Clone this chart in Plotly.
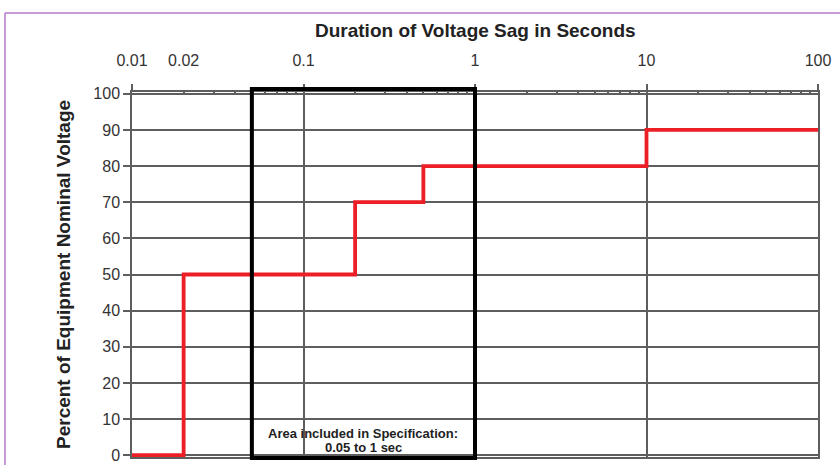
import math
import plotly.graph_objects as go

# Step curve data (SEMI F47 style)
duration_s = [0.01, 0.02, 0.02, 0.2, 0.2, 0.5, 0.5, 10, 10, 100]
percent_nominal = [0, 0, 50, 50, 70, 70, 80, 80, 90, 90]

tick_vals = [0.01, 0.02, 0.1, 1, 10, 100]
tick_text = ["0.01", "0.02", "0.1", "1", "10", "100"]

spec_start, spec_end = 0.05, 1
spec_lines = ["Area included in Specification:", "0.05 to 1 sec"]

minor_vals = [m * d for d in [0.01, 0.1, 1, 10] for m in range(2, 10)]

GRID = "#5e5e5e"
FONT = "Liberation Sans, Arial, sans-serif"

# plot area in pixels: left 132, right 818, top 92, bottom 457 (365 tall)
PH = 365.0
PW = 686.0

fig = go.Figure()
fig.add_trace(go.Scatter(
    x=duration_s, y=percent_nominal, mode="lines",
    line=dict(color="#ec1f27", width=3.8),
    hoverinfo="skip", showlegend=False,
))
# invisible copy to anchor the grid axis
fig.add_trace(go.Scatter(
    x=duration_s, y=percent_nominal, mode="lines", xaxis="x2",
    line=dict(color="rgba(0,0,0,0)", width=0),
    hoverinfo="skip", showlegend=False,
))

fig.add_shape(type="rect", xref="x", yref="paper",
              x0=spec_start, x1=spec_end, y0=-0.003, y1=1 + 3 / PH,
              line=dict(color="black", width=4), layer="above")

spec_mid = math.log10(math.sqrt(spec_start * spec_end))
for line_text, ypix in zip(spec_lines, [433, 447]):
    fig.add_annotation(x=spec_mid, y=(457 - ypix) / PH, xref="x", yref="paper",
                       text="<b>" + line_text + "</b>", showarrow=False,
                       font=dict(family=FONT, size=13, color="#222"),
                       xanchor="center", yanchor="middle")

# axis titles as annotations
fig.add_annotation(x=(475 - 132) / PW, y=(457 - 30) / PH, xref="paper", yref="paper",
                   text="<b>Duration of Voltage Sag in Seconds</b>",
                   xanchor="center", yanchor="middle",
                   showarrow=False, font=dict(family=FONT, size=19, color="#222"))
fig.add_annotation(x=(63 - 132) / PW, y=(457 - 275) / PH, xref="paper", yref="paper",
                   text="<b>Percent of Equipment Nominal Voltage</b>",
                   textangle=-90, showarrow=False,
                   xanchor="center", yanchor="middle",
                   font=dict(family=FONT, size=19, color="#222"))

# purple frame
frame_x = (5 - 132) / PW
frame_y = (457 - 13) / PH
fig.add_shape(type="line", xref="paper", yref="paper",
              x0=frame_x, x1=1.2, y0=frame_y, y1=frame_y,
              line=dict(color="#b57bc6", width=1.5))
fig.add_shape(type="line", xref="paper", yref="paper",
              x0=frame_x, x1=frame_x, y0=frame_y, y1=-0.2,
              line=dict(color="#b57bc6", width=1.5))

fig.update_layout(
    width=840, height=465,
    margin=dict(l=132, r=22, t=92, b=8),
    paper_bgcolor="white", plot_bgcolor="white",
    font=dict(family=FONT, size=16, color="#333"),
    xaxis=dict(
        type="log", range=[-2, 2], side="top", automargin=False,
        tickvals=tick_vals, ticktext=tick_text,
        ticks="", showgrid=False, zeroline=False,
        showline=True, linecolor=GRID, linewidth=1.5, mirror=True,
        ticklabelstandoff=18,
        tickfont=dict(family=FONT, size=16, color="#333"),
        minor=dict(tickvals=minor_vals, ticks="inside", ticklen=3,
                   tickcolor=GRID, tickwidth=1.5, showgrid=False),
    ),
    xaxis2=dict(
        type="log", range=[-2, 2], side="top", overlaying="x", automargin=False,
        dtick=1, showticklabels=False,
        ticks="outside", ticklen=7, tickcolor=GRID, tickwidth=1.5,
        showgrid=True, gridcolor=GRID, gridwidth=1.5, zeroline=False,
        showline=False,
    ),
    yaxis=dict(
        range=[-0.5, 100.5], tickvals=list(range(0, 101, 10)), automargin=False,
        ticks="outside", ticklen=7, tickcolor=GRID, tickwidth=1.5,
        showgrid=True, gridcolor=GRID, gridwidth=1.5, zeroline=False,
        showline=True, linecolor=GRID, linewidth=1.5, mirror=True,
        tickfont=dict(family=FONT, size=16, color="#333"),
    ),
)

fig.write_html("out.html", config={"displayModeBar": False},
               post_script="document.body.style.margin='0';")
